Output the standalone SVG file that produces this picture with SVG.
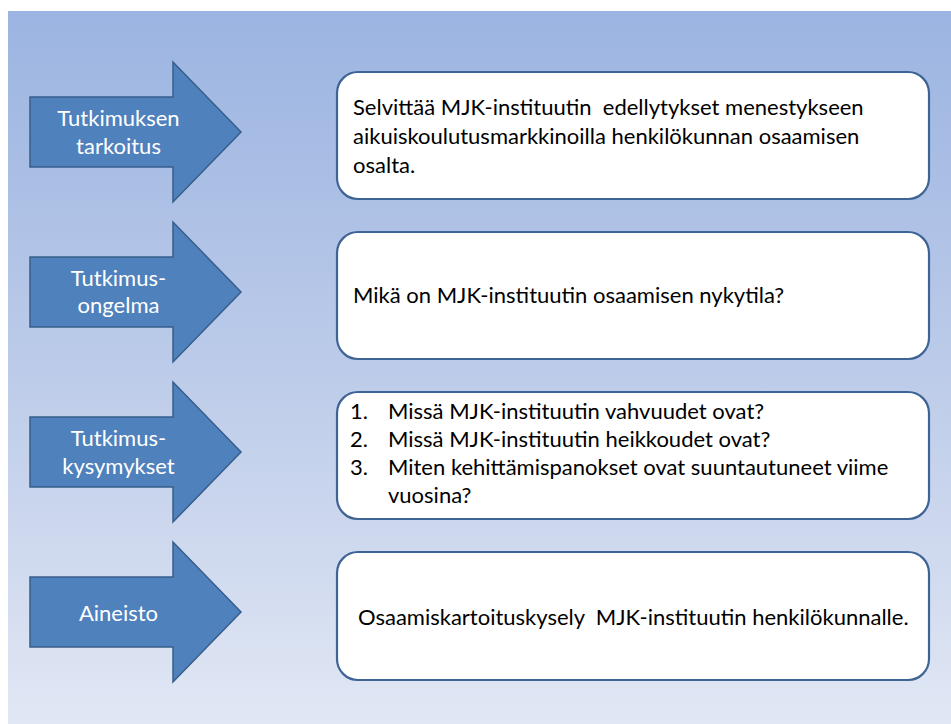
<svg xmlns="http://www.w3.org/2000/svg" width="951" height="724" viewBox="0 0 951 724">
  <defs>
    <linearGradient id="bgGrad" x1="0" y1="0" x2="0" y2="1">
      <stop offset="0" stop-color="#9bb4e1"/>
      <stop offset="0.5" stop-color="#bccbe9"/>
      <stop offset="1" stop-color="#e1e7f4"/>
    </linearGradient>
    <!-- block arrow: head top at y=0, tip at (211,70) -->
    <path id="blockArrow" d="M0,35 H143 V0 L211,70 L143,140 V105 H0 Z"/>
  </defs>
  <style>
    .arrow { fill: #4f81bd; stroke: #385d8a; stroke-width: 1.5; stroke-linejoin: miter; }
    .box { fill: #ffffff; stroke: #3e6395; stroke-width: 2.2; }
    .lbl { font-family: Lato, "Liberation Sans", sans-serif; font-size: 22px; fill: #ffffff; text-anchor: middle; }
    .txt { font-family: Lato, "Liberation Sans", sans-serif; font-size: 22px; fill: #000000; white-space: pre; }
  </style>

  <rect x="8" y="11" width="943" height="713" fill="url(#bgGrad)"/>

  <g id="connectors"/>

  <g id="arrow-tarkoitus">
    <use href="#blockArrow" class="arrow" transform="translate(30,62)"/>
    <text class="lbl" x="118.5" y="126">Tutkimuksen</text>
    <text class="lbl" x="118.5" y="154">tarkoitus</text>
  </g>
  <g id="box-tarkoitus">
    <rect class="box" x="337" y="72" width="592" height="127" rx="21"/>
    <text class="txt" x="353" y="115" xml:space="preserve">Selvittää MJK-instituutin  edellytykset menestykseen</text>
    <text class="txt" x="353" y="144">aikuiskoulutusmarkkinoilla henkilökunnan osaamisen</text>
    <text class="txt" x="353" y="173">osalta.</text>
  </g>

  <g id="arrow-ongelma">
    <use href="#blockArrow" class="arrow" transform="translate(30,222)"/>
    <text class="lbl" x="118.5" y="286">Tutkimus-</text>
    <text class="lbl" x="118.5" y="313">ongelma</text>
  </g>
  <g id="box-ongelma">
    <rect class="box" x="337" y="232" width="592" height="127" rx="21"/>
    <text class="txt" x="353" y="303">Mikä on MJK-instituutin osaamisen nykytila?</text>
  </g>

  <g id="arrow-kysymykset">
    <use href="#blockArrow" class="arrow" transform="translate(30,382)"/>
    <text class="lbl" x="118.5" y="446">Tutkimus-</text>
    <text class="lbl" x="118.5" y="474">kysymykset</text>
  </g>
  <g id="box-kysymykset">
    <rect class="box" x="337" y="392" width="592" height="127" rx="21"/>
    <text class="txt" x="350" y="419">1.</text>
    <text class="txt" x="388" y="419">Missä MJK-instituutin vahvuudet ovat?</text>
    <text class="txt" x="350" y="447">2.</text>
    <text class="txt" x="388" y="447">Missä MJK-instituutin heikkoudet ovat?</text>
    <text class="txt" x="350" y="475">3.</text>
    <text class="txt" x="388" y="475">Miten kehittämispanokset ovat suuntautuneet viime</text>
    <text class="txt" x="388" y="503">vuosina?</text>
  </g>

  <g id="arrow-aineisto">
    <use href="#blockArrow" class="arrow" transform="translate(30,542)"/>
    <text class="lbl" x="118.5" y="621">Aineisto</text>
  </g>
  <g id="box-aineisto">
    <rect class="box" x="337" y="552" width="592" height="128" rx="21"/>
    <text class="txt" x="358" y="625" xml:space="preserve">Osaamiskartoituskysely  MJK-instituutin henkilökunnalle.</text>
  </g>
</svg>
